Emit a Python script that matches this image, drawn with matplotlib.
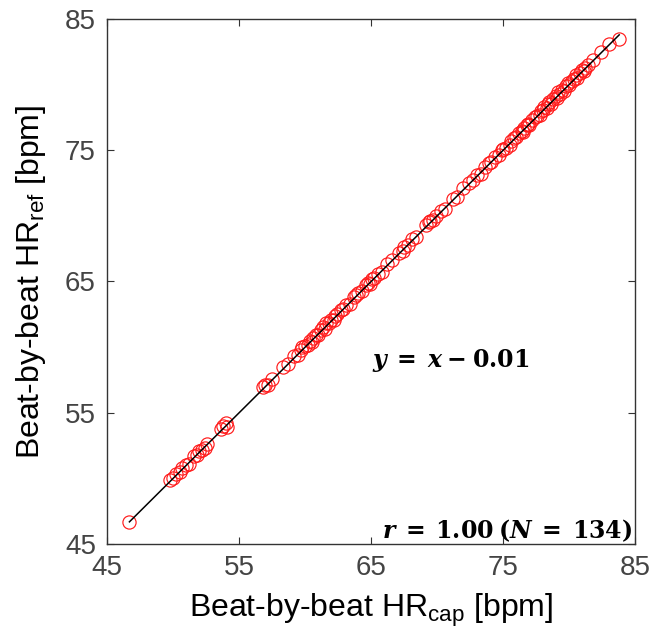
import matplotlib
matplotlib.use("Agg")
import matplotlib.pyplot as plt
import numpy as np

plt.rcParams['font.family'] = ['Liberation Sans', 'DejaVu Sans']
plt.rcParams['mathtext.fontset'] = 'custom'
plt.rcParams['mathtext.it'] = 'DejaVu Serif:italic:bold'
plt.rcParams['mathtext.bf'] = 'DejaVu Serif:bold'
plt.rcParams['mathtext.rm'] = 'DejaVu Serif:bold'

# beat-by-beat HR from capacitive sensor vs reference (bpm)
hr_cap = [46.7, 49.8, 50.0, 50.2, 50.5, 50.7, 51.0, 51.2, 51.6, 51.8, 52.0, 52.2, 52.4, 52.6,
          53.6, 53.8, 54.0, 54.1, 56.8, 57.0, 57.2, 57.5, 58.3, 58.7,
          59.2, 59.5, 59.7, 59.8, 60.0, 60.2, 60.4, 60.5, 60.6, 60.8, 61.0, 61.2, 61.4, 61.5,
          61.6, 61.8, 62.0, 62.2, 62.3, 62.4, 62.7, 62.9, 63.1, 63.4, 63.7, 63.9, 64.0, 64.3,
          64.6, 64.8, 64.9, 65.1, 65.2, 65.5, 65.8, 66.2, 66.6, 67.1, 67.4, 67.5, 67.8, 68.1,
          68.4, 69.2, 69.4, 69.5, 69.7, 69.9, 70.3, 70.6, 71.2, 71.5, 72.0, 72.4, 72.7, 73.0,
          73.3, 73.6, 73.9, 74.1, 74.4, 74.7, 74.9, 75.0, 75.2, 75.5, 75.6, 75.8, 76.0, 76.2,
          76.4, 76.5, 76.6, 76.8, 76.9, 77.0, 77.2, 77.4, 77.6, 77.8, 77.9, 78.0, 78.1, 78.3,
          78.4, 78.5, 78.6, 78.8, 79.0, 79.1, 79.2, 79.3, 79.5, 79.6, 79.8, 79.9, 80.0, 80.2,
          80.4, 80.5, 80.6, 80.8, 81.0, 81.1, 81.2, 81.4, 81.8, 82.4, 83.0, 83.8]
hr_ref = [46.7, 49.9, 50.0, 50.3, 50.5, 50.8, 51.0, 51.1, 51.7, 51.8, 52.1, 52.2, 52.3, 52.6,
          53.8, 54.0, 54.2, 53.9, 57.0, 57.1, 57.1, 57.6, 58.5, 58.7,
          59.3, 59.4, 59.8, 60.0, 60.1, 60.2, 60.5, 60.4, 60.7, 60.9, 60.9, 61.3, 61.5, 61.4,
          61.8, 61.8, 62.1, 62.1, 62.4, 62.5, 62.8, 62.9, 63.2, 63.3, 63.8, 64.0, 64.1, 64.3,
          64.7, 64.9, 64.8, 65.2, 65.3, 65.6, 65.7, 66.3, 66.6, 67.2, 67.3, 67.6, 67.8, 68.2,
          68.4, 69.3, 69.5, 69.6, 69.7, 70.0, 70.4, 70.5, 71.3, 71.4, 72.1, 72.5, 72.7, 73.1,
          73.2, 73.7, 74.0, 74.1, 74.5, 74.6, 75.0, 75.1, 75.2, 75.4, 75.7, 75.9, 76.0, 76.3,
          76.5, 76.4, 76.7, 76.9, 77.0, 76.9, 77.3, 77.5, 77.6, 77.7, 78.0, 78.1, 78.3, 78.2,
          78.5, 78.7, 78.5, 78.9, 79.1, 79.0, 79.4, 79.3, 79.6, 79.5, 79.9, 80.1, 80.0, 80.3,
          80.4, 80.7, 80.5, 80.9, 81.1, 81.0, 81.3, 81.5, 81.9, 82.5, 83.1, 83.5]
slope, offset = 1.0, -0.01
ticks = [45, 55, 65, 75, 85]

fig = plt.figure(figsize=(6.54, 6.41), dpi=100)
ax = fig.add_axes([0.1636, 0.1513, 0.8074, 0.8191])

ax.plot(hr_cap, hr_ref, 'o', mfc='none', mec='#ff1a1a', ms=9.5, mew=0.85, zorder=2)
xl = np.array([min(hr_cap), max(hr_cap)])
ax.plot(xl, slope * xl + offset, color='black', lw=1.1, zorder=3)

ax.set_xlim(45, 85)
ax.set_ylim(45, 85)
ax.set_xticks(ticks)
ax.set_yticks(ticks)
ax.tick_params(direction='in', length=5, width=0.8, top=True, right=True,
               labelsize=20, labelcolor='#444444', color='#333333', pad=8)
for s in ax.spines.values():
    s.set_color('#333333')
    s.set_linewidth(1.0)

ax.set_xlabel(r'Beat-by-beat HR$\mathregular{_{cap}}$ [bpm]', fontsize=23, labelpad=8)
ax.set_ylabel(r'Beat-by-beat HR$\mathregular{_{ref}}$ [bpm]', fontsize=23, labelpad=12)

ax.text(65.1, 59.0, r'$y\:=\:x\:-\:\mathbf{0.01}$', fontsize=17, va='center', ha='left')
ax.text(84.8, 46.0, r'$r\:=\:\mathbf{1.00}\:\mathbf{(}N\:=\:\mathbf{134)}$', fontsize=17,
        va='center', ha='right')

fig.savefig('out.png', dpi=100)
